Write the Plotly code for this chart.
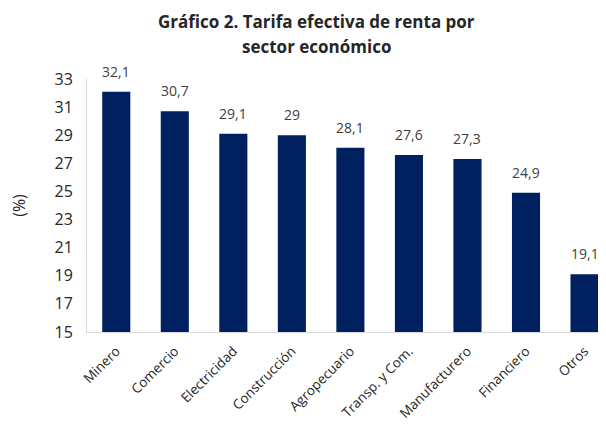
import plotly.graph_objects as go

categories = ["Minero", "Comercio", "Electricidad", "Construcción", "Agropecuario",
              "Transp. y Com.", "Manufacturero", "Financiero", "Otros"]
values = [32.1, 30.7, 29.1, 29, 28.1, 27.6, 27.3, 24.9, 19.1]
labels = ["32,1", "30,7", "29,1", "29", "28,1", "27,6", "27,3", "24,9", "19,1"]
y_ticks = [15, 17, 19, 21, 23, 25, 27, 29, 31, 33]

fig = go.Figure(go.Bar(
    x=categories, y=values,
    marker=dict(color="#002060", line=dict(width=0)),
    width=0.48,
))

for c, v, t in zip(categories, values, labels):
    fig.add_annotation(x=c, y=v, text=t, showarrow=False, xanchor="center",
                       yanchor="bottom", yshift=9,
                       font=dict(size=14, color="#404040"))

W = 511
fig.add_annotation(xref="paper", yref="paper", x=(308 - 79) / W, y=1 + (71 - 14) / 253,
                   text="<b>Gráfico 2. Tarifa efectiva de renta por</b>", showarrow=False,
                   xanchor="center", yanchor="middle", font=dict(size=17, color="#262626"))
fig.add_annotation(xref="paper", yref="paper", x=(308 - 79) / W, y=1 + (71 - 38) / 253,
                   text="<b>sector económico</b>", showarrow=False,
                   xanchor="center", yanchor="middle", font=dict(size=17, color="#262626"))

fig.update_layout(
    width=590, height=419,
    margin=dict(l=79, r=0, t=71, b=95),
    paper_bgcolor="white", plot_bgcolor="white",
    font=dict(family="Open Sans", color="#404040"),
    showlegend=False,
)
fig.update_xaxes(range=[-0.5, 8.23], tickangle=-45, showline=True, linecolor="#d9d9d9",
                 linewidth=1, ticks="", tickfont=dict(size=13.5, color="#262626"),
                 ticklabelstandoff=5, showgrid=False, automargin=False)
fig.update_yaxes(range=[15, 33], tickvals=y_ticks, showline=True, linecolor="#d9d9d9",
                 linewidth=1, showgrid=False, zeroline=False, ticks="",
                 ticklabelstandoff=10, automargin=False,
                 tickfont=dict(size=16, color="#262626"),
                 title=dict(text="(%)", font=dict(size=16, color="#262626"), standoff=26))

fig.write_html("out.html")
